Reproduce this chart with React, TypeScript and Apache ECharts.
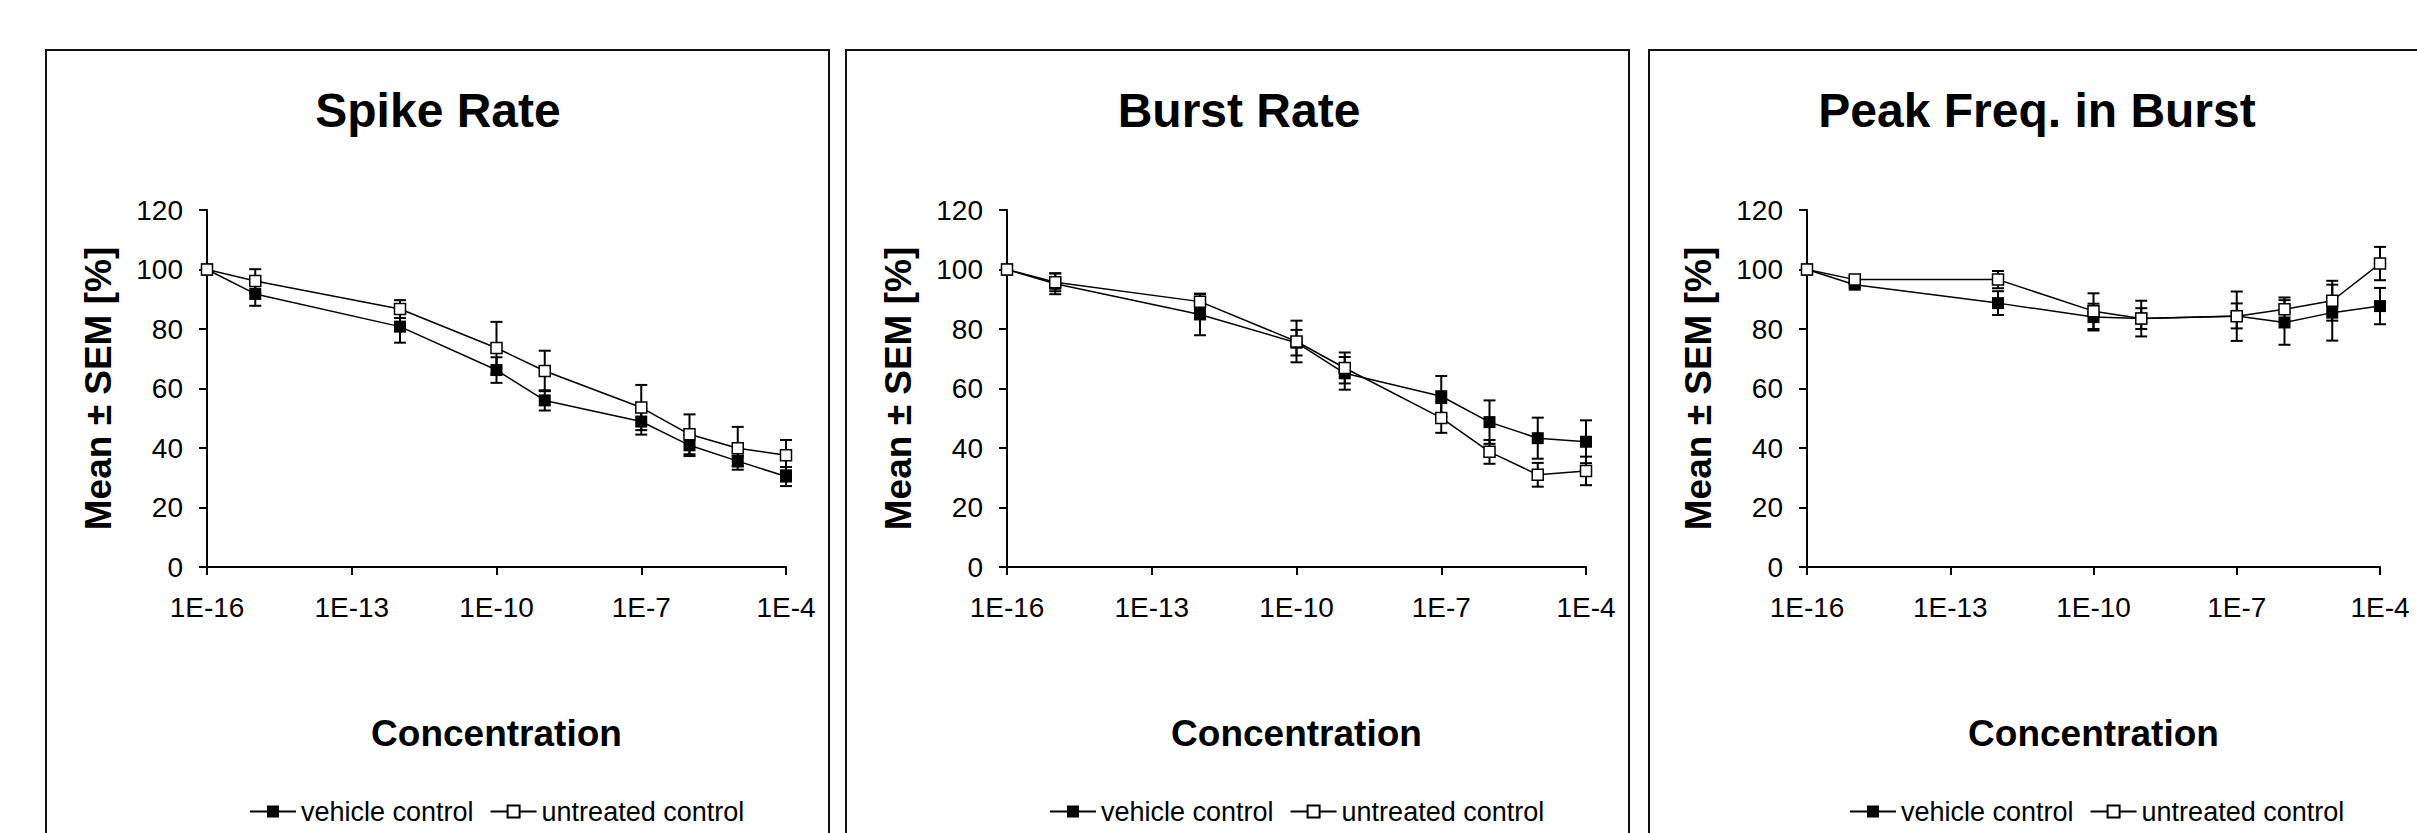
import React, { useEffect, useRef } from 'react';
import * as echarts from 'echarts';

// ---- data ----
const concentrations = [1e-16, 1e-15, 1e-12, 1e-10, 1e-9, 1e-7, 1e-6, 1e-5, 1e-4];
const xTickExponents = [-16, -13, -10, -7, -4];
const seriesNames = ['vehicle control', 'untreated control'];
const panelTitles = ['Spike Rate', 'Burst Rate', 'Peak Freq. in Burst'];
const yAxisTitle = 'Mean ± SEM [%]';
const xAxisTitle = 'Concentration';

const spikeVehicleMean = [100, 91.8, 80.8, 66.2, 56.0, 48.9, 40.9, 35.6, 30.4];
const spikeVehicleSem = [0, 4.0, 5.4, 4.3, 3.4, 4.4, 3.6, 1.8, 3.2];
const spikeUntreatedMean = [100, 96.1, 86.7, 73.6, 65.9, 53.6, 44.6, 39.9, 37.6];
const spikeUntreatedSem = [0, 4.0, 3.0, 8.8, 6.8, 7.6, 6.7, 7.2, 5.1];

const burstVehicleMean = [100, 95.2, 84.9, 75.4, 65.1, 57.4, 48.7, 43.3, 42.1];
const burstVehicleSem = [0, 3.5, 7.0, 4.3, 5.5, 6.8, 7.3, 6.9, 7.2];
const burstUntreatedMean = [100, 95.7, 89.2, 75.8, 66.9, 50.1, 38.7, 31.0, 32.3];
const burstUntreatedSem = [0, 3.0, 2.5, 7.0, 5.2, 5.0, 4.0, 4.0, 4.8];

const peakVehicleMean = [100, 94.9, 88.7, 84.0, 83.5, 84.4, 82.2, 85.5, 87.7];
const peakVehicleSem = [0, 1.0, 4.0, 4.5, 3.5, 4.2, 7.5, 9.4, 6.1];
const peakUntreatedMean = [100, 96.6, 96.6, 86.0, 83.5, 84.3, 86.6, 89.5, 102.0];
const peakUntreatedSem = [0, 1.0, 2.9, 6.0, 6.0, 8.3, 4.0, 6.7, 5.6];

const panelData = [
  { vMean: spikeVehicleMean, vSem: spikeVehicleSem, uMean: spikeUntreatedMean, uSem: spikeUntreatedSem },
  { vMean: burstVehicleMean, vSem: burstVehicleSem, uMean: burstUntreatedMean, uSem: burstUntreatedSem },
  { vMean: peakVehicleMean, vSem: peakVehicleSem, uMean: peakUntreatedMean, uSem: peakUntreatedSem },
];

// ---- layout ----
const FONT = '"Liberation Sans", Arial, Helvetica, sans-serif';
const frames = [
  { x: 46, w: 783 },
  { x: 846, w: 783 },
  { x: 1649, w: 783 },
];
const grids = [
  { left: 207, width: 579 },
  { left: 1007, width: 579 },
  { left: 1807, width: 573 },
];
const titleX = [438, 1239, 2037];
const legendLeft = [249, 1049, 1849];
const GRID_TOP = 210;
const GRID_H = 357;

function errData(mean: number[], sem: number[]) {
  const out: number[][] = [];
  concentrations.forEach((c, j) => {
    if (sem[j] > 0) out.push([Math.log10(c), mean[j] - sem[j], mean[j] + sem[j]]);
  });
  return out;
}

function errorRender(params: any, api: any) {
  const x = api.value(0);
  const lo = api.coord([x, api.value(1)]);
  const hi = api.coord([x, api.value(2)]);
  const hw = 6;
  const st = { stroke: '#000', lineWidth: 2 };
  return {
    type: 'group',
    children: [
      { type: 'line', shape: { x1: lo[0], y1: lo[1], x2: hi[0], y2: hi[1] }, style: st },
      { type: 'line', shape: { x1: lo[0] - hw, y1: lo[1], x2: lo[0] + hw, y2: lo[1] }, style: st },
      { type: 'line', shape: { x1: hi[0] - hw, y1: hi[1], x2: hi[0] + hw, y2: hi[1] }, style: st },
    ],
  };
}

export default function App() {
  const ref = useRef<HTMLDivElement>(null);

  useEffect(() => {
    if (!ref.current) return;
    const chart = echarts.init(ref.current, null, { renderer: 'svg' });

    const series: any[] = [];
    panelData.forEach((p, i) => {
      series.push({
        type: 'custom',
        name: 'vehicle SEM',
        xAxisIndex: i,
        yAxisIndex: i,
        renderItem: errorRender,
        encode: { x: 0, y: [1, 2] },
        data: errData(p.vMean, p.vSem),
        z: 1,
        silent: true,
      });
      series.push({
        type: 'custom',
        name: 'untreated SEM',
        xAxisIndex: i,
        yAxisIndex: i,
        renderItem: errorRender,
        encode: { x: 0, y: [1, 2] },
        data: errData(p.uMean, p.uSem),
        z: 1,
        silent: true,
      });
      series.push({
        type: 'line',
        name: seriesNames[0],
        xAxisIndex: i,
        yAxisIndex: i,
        data: concentrations.map((c, j) => [Math.log10(c), p.vMean[j]]),
        symbol: 'rect',
        symbolSize: 12,
        itemStyle: { color: '#000' },
        lineStyle: { color: '#000', width: 1.5 },
        z: 3,
      });
      series.push({
        type: 'line',
        name: seriesNames[1],
        xAxisIndex: i,
        yAxisIndex: i,
        data: concentrations.map((c, j) => [Math.log10(c), p.uMean[j]]),
        symbol: 'rect',
        symbolSize: 11,
        itemStyle: { color: '#fff', borderColor: '#000', borderWidth: 1.5 },
        lineStyle: { color: '#000', width: 1.5 },
        z: 4,
      });
    });

    const option: any = {
      animation: false,
      backgroundColor: '#fff',
      grid: grids.map((g) => ({ left: g.left, width: g.width, top: GRID_TOP, height: GRID_H })),
      xAxis: grids.map((g, i) => ({
        type: 'value',
        gridIndex: i,
        min: -16,
        max: -4,
        axisLine: { show: true, onZero: false, lineStyle: { color: '#000', width: 2 } },
        axisTick: { show: true, length: 8, lineStyle: { color: '#000', width: 2 }, customValues: xTickExponents },
        axisLabel: {
          customValues: xTickExponents,
          formatter: (v: number) => '1E' + v,
          fontSize: 28,
          color: '#000',
          fontFamily: FONT,
          margin: 26,
        },
        splitLine: { show: false },
        name: xAxisTitle,
        nameLocation: 'middle',
        nameGap: 148,
        nameTextStyle: { fontSize: 37, fontWeight: 'bold', color: '#000', fontFamily: FONT },
      })),
      yAxis: grids.map((g, i) => ({
        type: 'value',
        gridIndex: i,
        min: 0,
        max: 120,
        interval: 20,
        axisLine: { show: true, lineStyle: { color: '#000', width: 2 } },
        axisTick: { show: true, length: 8, lineStyle: { color: '#000', width: 2 } },
        axisLabel: { fontSize: 28, color: '#000', fontFamily: FONT, margin: 24 },
        splitLine: { show: false },
        name: yAxisTitle,
        nameLocation: 'middle',
        nameGap: 90,
        nameTextStyle: { fontSize: 37, fontWeight: 'bold', color: '#000', fontFamily: FONT },
      })),
      legend: grids.map((g, i) => ({
        data: seriesNames,
        left: legendLeft[i],
        top: 798,
        padding: 0,
        itemWidth: 46,
        itemHeight: 15,
        itemGap: 16,
        selectedMode: false,
        textStyle: { fontSize: 27, color: '#000', fontFamily: FONT },
      })),
      graphic: [
        ...frames.map((f) => ({
          type: 'rect',
          shape: { x: f.x, y: 50, width: f.w, height: 800 },
          style: { fill: 'none', stroke: '#111', lineWidth: 2 },
          silent: true,
          z: -1,
        })),
        ...panelTitles.map((t, i) => ({
          type: 'text',
          x: titleX[i],
          y: 110,
          style: {
            text: t,
            fontSize: 48,
            fontWeight: 'bold',
            fontFamily: FONT,
            fill: '#000',
            align: 'center',
            verticalAlign: 'middle',
            textAlign: 'center',
            textVerticalAlign: 'middle',
          },
        })),
      ],
      series,
    };

    chart.setOption(option);
    return () => chart.dispose();
  }, []);

  return (
    <div
      ref={ref}
      style={{ position: 'fixed', left: 0, top: 0, width: 2417, height: 833, background: '#fff' }}
    />
  );
}
